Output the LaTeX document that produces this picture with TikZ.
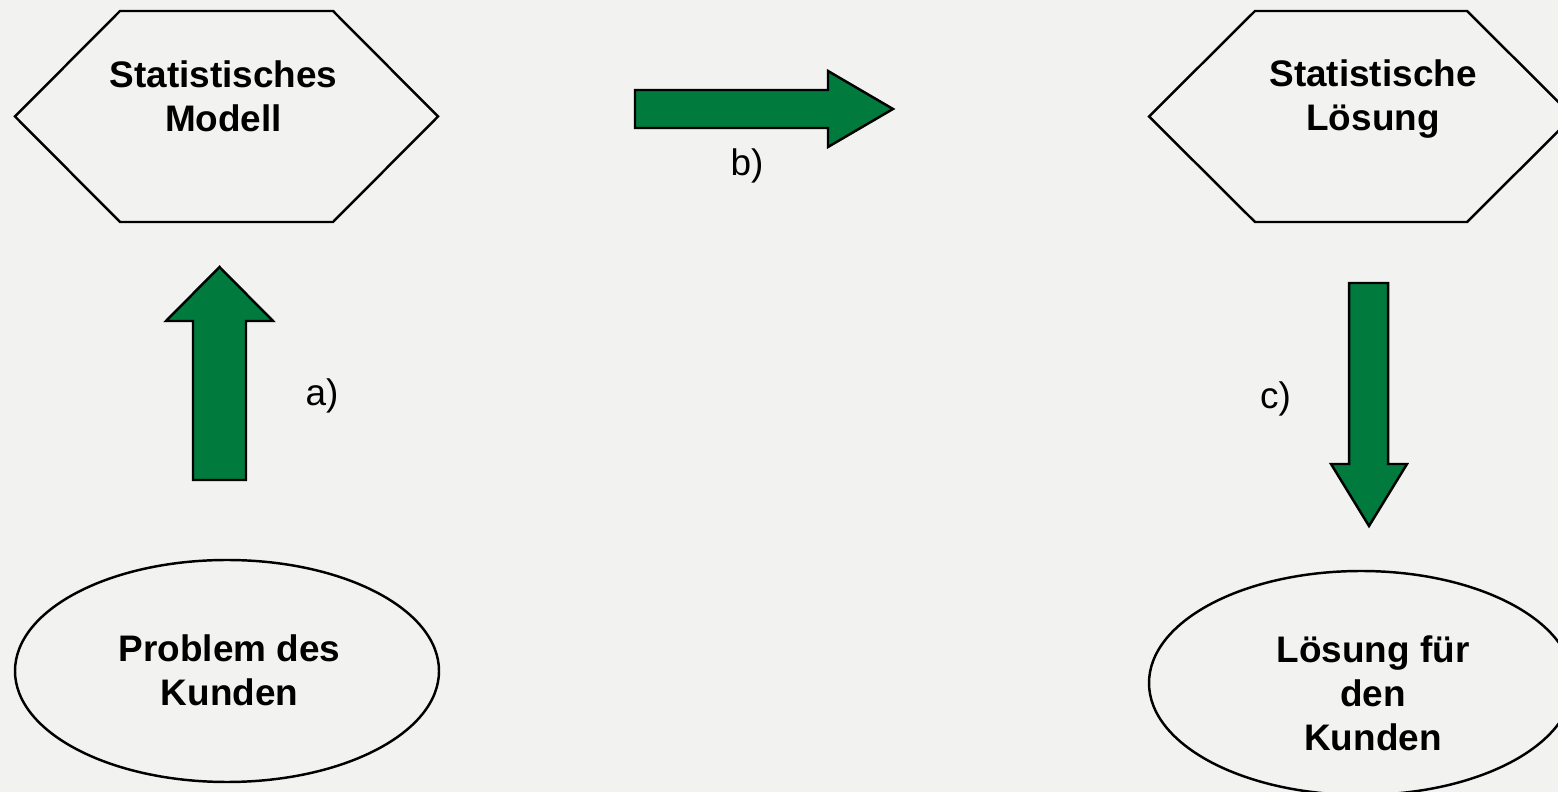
\documentclass[tikz,border=0pt]{standalone}
\usepackage{fontspec}
\setmainfont{Liberation Sans}
\definecolor{paper}{RGB}{242,242,240}
\definecolor{flowgreen}{RGB}{0,122,61}
\begin{document}
\begin{tikzpicture}[x=0.01cm, y=-0.01cm,
    outline/.style={draw=black, line width=0.7pt},
    fatarrow/.style={fill=flowgreen, draw=black, line width=0.7pt},
    boxtext/.style={font=\fontsize{10.5}{12.5}\selectfont\bfseries, align=center, inner sep=0pt},
    steplabel/.style={font=\fontsize{10.5}{12.5}\selectfont, inner sep=0pt}]
    % Background
    \fill[paper] (0,0) rectangle (1558,792);
    \clip (0,0) rectangle (1558,792);

    % Hexagons
    \draw[outline] (15,116.5) -- (120,11) -- (333,11) -- (438,116.5) -- (333,222) -- (120,222) -- cycle;
    \draw[outline] (1149,116.5) -- (1255,11) -- (1467,11) -- (1573,116.5) -- (1467,222) -- (1255,222) -- cycle;

    % Ellipses
    \draw[outline] (227,671) ellipse [x radius=212, y radius=111];
    \draw[outline] (1361,683) ellipse [x radius=212, y radius=112];

    % Texts
    \node[boxtext] (model) at (223.5,96) {Statistisches\\Modell};
    \node[boxtext] (statsol) at (1373,99.5) {Statistische\\Lösung};
    \node[boxtext] (problem) at (229.5,670.5) {Problem des\\Kunden};
    \node[boxtext] (custsol) at (1373,693.5) {Lösung für\\den\\Kunden};

    % Arrows
    \draw[fatarrow] (193,480) -- (193,321) -- (166,321) -- (219.5,267) -- (273,321) -- (246,321) -- (246,480) -- cycle;
    \draw[fatarrow] (635,90) -- (828,90) -- (828,71) -- (893,109) -- (828,147) -- (828,128) -- (635,128) -- cycle;
    \draw[fatarrow] (1349,283) -- (1388,283) -- (1388,464) -- (1407,464) -- (1369,526) -- (1331,464) -- (1349,464) -- cycle;

    % Labels
    \node[steplabel] (stepa) at (322,396) {a)};
    \node[steplabel] (stepb) at (747,166) {b)};
    \node[steplabel] (stepc) at (1275.5,399) {c)};
\end{tikzpicture}
\end{document}
